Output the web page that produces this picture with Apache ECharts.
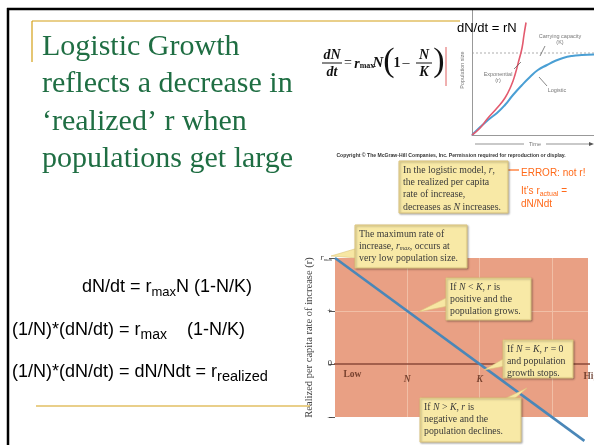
<!DOCTYPE html>
<html><head><meta charset="utf-8">
<script src="https://cdn.jsdelivr.net/npm/echarts@6/dist/echarts.min.js"></script>
<style>html,body{margin:0;padding:0;background:#fff}#c{width:594px;height:445px}</style>
</head><body><div id="c"></div>
<script>
// ---- main chart: realized per-capita rate vs population size ----
const popLevelX = [0, 3.45];          // population size (grid units: N = 1, K = 2)
const realizedR = [2, -1.45];         // realized r (r_max = 2, zero at K)
const rTickLabels = {'2': '{i|r}{s|max}', '1': '+', '0': '0', '-1': '\u2013'};
const axisWordX = [0.24, 1, 2, 3.43];
const axisWords = ['Low', 'N', 'K', 'High'];
const zeroLineX = [-0.03, 3.53];
// ---- inset chart: population size vs time ----
const timeExp = [0, 6.6, 13.1, 20.5, 27, 32, 35.2, 38.5, 41, 42.6, 44.3];
const sizeExp = [0, 5.6, 13.6, 21.6, 29.6, 39.2, 48, 60, 69.6, 80, 90];
const timeLog = [0, 13.1, 20.5, 27, 33.6, 41, 47.5, 54, 61.5, 68, 74.6, 82, 90, 100];
const sizeLog = [0, 12, 17.6, 24, 32, 40, 46.4, 52, 56, 59.2, 61.6, 63.2, 64, 64.5];
const carryingK = 65.6;
const kTime = [0, 100];

const zip = (a, b) => a.map((v, i) => [v, b[i]]);

const mctx = document.createElement('canvas').getContext('2d');
function tw(font, t) { mctx.font = font; return mctx.measureText(t).width; }
function T(x, y, text, o) {
  o = o || {};
  const st = {
    text: text, fill: o.fill || '#000',
    fontSize: o.size || 12, fontFamily: o.family || 'Liberation Sans',
    fontStyle: o.style || 'normal', fontWeight: o.weight || 'normal',
    align: o.align || 'left', verticalAlign: o.va || 'middle',
    textAlign: o.align || 'left', textVerticalAlign: o.va || 'middle'
  };
  if (o.rich) st.rich = o.rich;
  const el = {type: 'text', x: x, y: y, style: st, z: 10};
  if (o.rotation) el.rotation = o.rotation;
  return el;
}
function seq(x, y, parts, base) {
  let cx = x; const out = [];
  parts.forEach(p => {
    const o = Object.assign({}, base, p);
    out.push(T(cx, y + (p.dy || 0), p.t, o));
    const font = (o.style || 'normal') + ' ' + (o.weight || 'normal') + ' ' + o.size + 'px "' + o.family + '"';
    cx += tw(font, p.t);
  });
  return out;
}
function L(x1, y1, x2, y2, color, w, dash) {
  return {type: 'line', shape: {x1, y1, x2, y2}, style: {stroke: color, lineWidth: w, lineDash: dash || null}, z: 5};
}
function box(x, y, w, h, tail, lines) {
  const els = [];
  if (tail) els.push({type: 'polygon', shape: {points: tail}, style: {fill: '#f7e7a3', stroke: '#dcc47c', lineWidth: 0.6}, z: 8});
  els.push({type: 'rect', shape: {x, y, width: w, height: h},
    style: {fill: '#f8e9a6', stroke: '#dcc47c', lineWidth: 1, shadowBlur: 2, shadowOffsetX: 1, shadowOffsetY: 1, shadowColor: 'rgba(0,0,0,0.3)'}, z: 9});
  lines.forEach((ln, i) => {
    els.push(T(x + 4, y + 9 + i * 12.4, ln, {size: 9.8, family: 'Liberation Serif', fill: '#3a3a3a',
      rich: {i: {fontStyle: 'italic', fontSize: 9.8, fontFamily: 'Liberation Serif', fill: '#3a3a3a'},
             s: {fontStyle: 'italic', fontSize: 6, fontFamily: 'Liberation Serif', fill: '#3a3a3a', padding: [4, 0, 0, 0]},
             n: {fontSize: 9.8, fontFamily: 'Liberation Serif', fill: '#3a3a3a'}}}));
  });
  return els;
}

const green = '#1f6e43';
const orange = '#ff6a1a';
const titleLines = ['Logistic Growth', 'reflects a decrease in', '\u2018realized\u2019 r when', 'populations get large'];

let g = [];
// frame & gold rules
g.push(L(7, 9, 594, 9, '#000', 2.5));
g.push(L(8, 8, 8, 445, '#000', 2.5));
g.push(L(32, 21, 460, 21, '#d4a017', 1.2));
g.push(L(32, 21, 32, 62, '#d4a017', 1.2));
g.push(L(36, 406, 310, 406, '#d4a017', 1.2));
// title
titleLines.forEach((t, i) => g.push(T(42, 47 + i * 37.5, t, {size: 30, family: 'Liberation Serif', fill: green})));
// left formulas
const fb = {size: 18, family: 'Liberation Sans', fill: '#000'};
g = g.concat(seq(82, 287, [{t: 'dN/dt = r'}, {t: 'max', size: 13, dy: 5}, {t: 'N (1-N/K)'}], fb));
g = g.concat(seq(12, 330, [{t: '(1/N)*(dN/dt) = r'}, {t: 'max', size: 14, dy: 5}, {t: '    (1-N/K)'}], fb));
g = g.concat(seq(12, 372, [{t: '(1/N)*(dN/dt) = dN/Ndt = r'}, {t: 'realized', size: 14.5, dy: 5}], fb));
// top typeset formula
const ser = {family: 'Liberation Serif', fill: '#111', style: 'italic', weight: 'bold', align: 'center'};
g.push(T(332, 55, 'dN', Object.assign({}, ser, {size: 14})));
g.push(L(322, 63, 342, 63, '#111', 1));
g.push(T(332, 72, 'dt', Object.assign({}, ser, {size: 14})));
g.push(T(348, 63, '=', {size: 14, family: 'Liberation Serif', fill: '#111', align: 'center'}));
g.push(T(357, 64, 'r', Object.assign({}, ser, {size: 14})));
g.push(T(367, 66, 'max', {size: 8, family: 'Liberation Serif', fill: '#111', align: 'center', weight: 'bold'}));
g.push(T(378, 63, 'N', Object.assign({}, ser, {size: 15})));
g.push(T(389, 62, '(', {size: 34, family: 'Liberation Serif', fill: '#111', align: 'center'}));
g.push(T(397, 63, '1', {size: 14, family: 'Liberation Serif', fill: '#111', align: 'center', weight: 'bold'}));
g.push(T(406, 63, '\u2013', {size: 14, family: 'Liberation Serif', fill: '#111', align: 'center'}));
g.push(T(424, 55, 'N', Object.assign({}, ser, {size: 14})));
g.push(L(416, 63, 432, 63, '#111', 1));
g.push(T(424, 72, 'K', Object.assign({}, ser, {size: 14})));
g.push(T(439, 62, ')', {size: 34, family: 'Liberation Serif', fill: '#111', align: 'center'}));
g.push(L(446, 47, 446, 86, '#e06060', 1));
// inset annotations
g.push(T(457, 28, 'dN/dt = rN', {size: 13, family: 'Liberation Sans', fill: '#000'}));
const sm = {size: 5.5, family: 'Liberation Sans', fill: '#777', align: 'center'};
g.push(T(462, 70, 'Population size', Object.assign({}, sm, {rotation: Math.PI / 2})));
g.push(T(560, 36, 'Carrying capacity', sm));
g.push(T(560, 42, '(K)', sm));
g.push(L(545, 46, 540, 56, '#555', 0.7));
g.push(T(498, 74, 'Exponential', sm));
g.push(T(498, 80, '(r)', sm));
g.push(L(514, 69, 521, 62, '#555', 0.7));
g.push(T(557, 90, 'Logistic', sm));
g.push(L(547, 86, 539, 77, '#555', 0.7));
g.push(L(475, 144, 524, 144, '#666', 0.7));
g.push(T(535, 144, 'Time', sm));
g.push(L(546, 144, 590, 144, '#666', 0.7));
g.push({type: 'polygon', shape: {points: [[594, 144], [589, 142], [589, 146]]}, style: {fill: '#555'}, z: 5});
g.push(T(451, 156, 'Copyright \u00a9 The McGraw-Hill Companies, Inc. Permission required for reproduction or display.',
  {size: 5.1, family: 'Liberation Sans', weight: 'bold', fill: '#333', align: 'center'}));
// orange note
g.push(L(519, 170, 506, 170, orange, 1.2));
g.push({type: 'polygon', shape: {points: [[502, 170], [507, 167.5], [507, 172.5]]}, style: {fill: orange}, z: 6});
g.push(T(521, 173, 'ERROR: not r!', {size: 10, family: 'Liberation Sans', fill: orange}));
g = g.concat(seq(521, 191, [{t: 'It\u2019s r'}, {t: 'actual', size: 7, dy: 3}, {t: ' ='}], {size: 10, family: 'Liberation Sans', fill: orange}));
g.push(T(521, 204, 'dN/Ndt', {size: 10, family: 'Liberation Sans', fill: orange}));
// callout boxes
g = g.concat(box(399, 161, 109, 52, null,
  ['In the logistic model, {i|r},', 'the realized per capita', 'rate of increase,', 'decreases as {i|N} increases.']));
g = g.concat(box(355, 225, 112, 43, [[358, 248], [358, 258], [331, 256]],
  ['The maximum rate of', 'increase, {i|r}{s|max}{n|, occurs at}', 'very low population size.']));
g = g.concat(box(446, 278, 85, 42, [[448, 297], [448, 306], [418, 312]],
  ['If {i|N} < {i|K}, {i|r} is', 'positive and the', 'population grows.']));
g = g.concat(box(503, 340, 70, 38, [[505, 358], [505, 366], [484, 370]],
  ['If {i|N} = {i|K}, {i|r} = 0', 'and population', 'growth stops.']));
g = g.concat(box(420, 398, 101, 44, [[502, 400], [513, 400], [527, 388]],
  ['If {i|N} > {i|K}, {i|r} is', 'negative and the', 'population declines.']));

const clear = 'rgba(0,0,0,0)', light = '#f1bfa6';
const wordLabel = (w) => {
  const base = {show: true, formatter: w, fontFamily: 'Liberation Serif', fontWeight: 'bold', fontSize: 9.5, color: '#5a2818'};
  if (w === 'N' || w === 'K') return Object.assign(base, {position: 'bottom', distance: 10, fontStyle: 'italic'});
  if (w === 'Low') return Object.assign(base, {position: 'bottom', distance: 5});
  return Object.assign(base, {position: 'right', distance: 0, offset: [0, 13]});
};
const option = {
  animation: false,
  backgroundColor: '#fff',
  grid: [
    {left: 335, top: 258, width: 253, height: 159, show: true, backgroundColor: '#e9a084', borderWidth: 0, containLabel: false},
    {left: 472, top: 10, width: 122, height: 125, show: false, containLabel: false}
  ],
  xAxis: [
    {gridIndex: 0, type: 'value', min: 0, max: 3.5, interval: 1,
     axisLine: {show: false}, axisTick: {show: false}, axisLabel: {show: false},
     splitLine: {show: true, lineStyle: {color: [clear, light, light, light], width: 1}}},
    {gridIndex: 1, type: 'value', min: 0, max: 100,
     axisLine: {show: true, onZero: false, lineStyle: {color: '#999', width: 1}},
     axisTick: {show: false}, axisLabel: {show: false}, splitLine: {show: false}}
  ],
  yAxis: [
    {gridIndex: 0, type: 'value', min: -1, max: 2, interval: 1,
     name: 'Realized per capita rate of increase (r)', nameLocation: 'middle', nameGap: 20, nameRotate: 90,
     nameTextStyle: {fontFamily: 'Liberation Serif', fontSize: 10.5, color: '#444'},
     axisLine: {show: false},
     axisTick: {show: true, length: 6, lineStyle: {color: '#555'}},
     axisLabel: {margin: 3, formatter: v => rTickLabels[String(v)] || '', fontFamily: 'Liberation Serif', fontSize: 8.5, color: '#333',
       rich: {i: {fontStyle: 'italic', fontSize: 8, fontFamily: 'Liberation Serif', color: '#333'},
              s: {fontStyle: 'italic', fontSize: 5, fontFamily: 'Liberation Serif', color: '#333', padding: [3, 0, 0, 0]}}},
     splitLine: {show: true, lineStyle: {color: [clear, clear, light, clear], width: 1}}},
    {gridIndex: 1, type: 'value', min: 0, max: 100,
     axisLine: {show: true, onZero: false, lineStyle: {color: '#999', width: 1}},
     axisTick: {show: false}, axisLabel: {show: false}, splitLine: {show: false}}
  ],
  series: [
    {type: 'line', xAxisIndex: 0, yAxisIndex: 0, data: zip(zeroLineX, [0, 0]), symbol: 'none', clip: false,
     lineStyle: {color: '#8b4a3a', width: 1.6}, z: 3},
    {type: 'scatter', xAxisIndex: 0, yAxisIndex: 0, symbolSize: 1, itemStyle: {color: 'rgba(0,0,0,0)'}, clip: false,
     data: axisWordX.map((x, i) => ({value: [x, 0], label: wordLabel(axisWords[i])})), z: 3},
    {type: 'line', xAxisIndex: 0, yAxisIndex: 0, data: zip(popLevelX, realizedR), symbol: 'none', clip: false,
     lineStyle: {color: '#4a87b8', width: 2.6}, z: 4},
    {type: 'line', xAxisIndex: 1, yAxisIndex: 1, data: zip(kTime, [carryingK, carryingK]), symbol: 'none',
     lineStyle: {color: '#999', width: 0.8, type: [2, 2]}},
    {type: 'line', xAxisIndex: 1, yAxisIndex: 1, data: zip(timeLog, sizeLog), symbol: 'none', smooth: true,
     lineStyle: {color: '#4a9fd4', width: 2}},
    {type: 'line', xAxisIndex: 1, yAxisIndex: 1, data: zip(timeExp, sizeExp), symbol: 'none', smooth: true,
     lineStyle: {color: '#e35a6e', width: 1.6}}
  ],
  graphic: g
};
const chart = echarts.init(document.getElementById('c'));
chart.setOption(option);
</script></body></html>
